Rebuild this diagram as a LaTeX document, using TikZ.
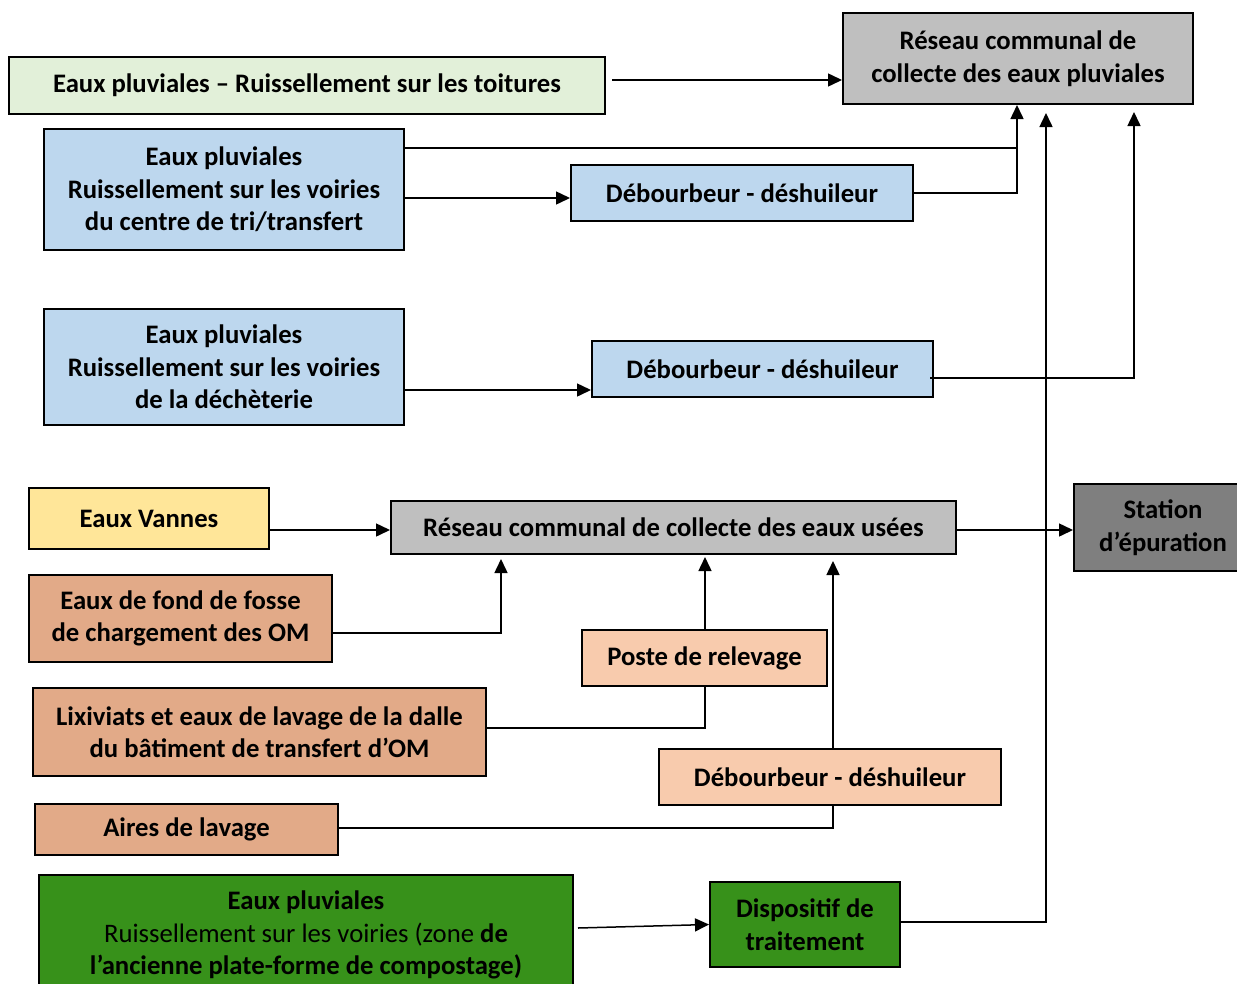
\documentclass[tikz,border=0pt]{standalone}
\usepackage{fontspec}
\setmainfont{Carlito}
\usetikzlibrary{arrows.meta,calc}
\definecolor{lgreen}{HTML}{E2F0D9}
\definecolor{cgrey}{HTML}{BFBFBF}
\definecolor{cblue}{HTML}{BDD7EE}
\definecolor{cyellow}{HTML}{FFE699}
\definecolor{cstation}{HTML}{7F7F7F}
\definecolor{ctan}{HTML}{E2AA88}
\definecolor{cpeach}{HTML}{F8CBAD}
\definecolor{dgreen}{HTML}{37911A}
\begin{document}
\begin{tikzpicture}[x=1pt,y=-1pt,
  box/.style={draw=black,line width=2pt,inner sep=0pt,align=center,
    font=\fontsize{26.7}{32.5}\selectfont\bfseries},
  conn/.style={line width=1.5pt},
  arr/.style={conn,-{Triangle[length=14pt,width=13pt]}}]
\useasboundingbox (0,0) rectangle (1237,983);
\clip (0,0) rectangle (1237,983);

% boxes
\node[box,fill=lgreen,minimum width=596pt,minimum height=57pt] (toit) at (307,85.5)
  {Eaux pluviales -- Ruissellement sur les toitures};
\node[box,fill=cgrey,minimum width=350pt,minimum height=91pt] (rpluv) at (1018,58.5)
  {Réseau communal de\\collecte des eaux pluviales};
\node[box,fill=cblue,minimum width=360pt,minimum height=121pt] (voir1) at (224,189.5)
  {Eaux pluviales\\Ruissellement sur les voiries\\du centre de tri/transfert};
\node[box,fill=cblue,minimum width=342pt,minimum height=56pt] (deb1) at (742,193)
  {Débourbeur - déshuileur};
\node[box,fill=cblue,minimum width=360pt,minimum height=116pt] (voir2) at (224,367)
  {Eaux pluviales\\Ruissellement sur les voiries\\de la déchèterie};
\node[box,fill=cblue,minimum width=341pt,minimum height=56pt] (deb2) at (762.5,369)
  {Débourbeur - déshuileur};
\node[box,fill=cyellow,minimum width=240pt,minimum height=61pt] (vannes) at (149,518.5)
  {Eaux Vannes};
\node[box,fill=cgrey,minimum width=565pt,minimum height=53pt] (rusees) at (673.5,527.5)
  {Réseau communal de collecte des eaux usées};
\node[box,fill=cstation,minimum width=178pt,minimum height=87pt] (station) at (1163,527.5)
  {Station\\d’épuration};
\node[box,fill=ctan,minimum width=303pt,minimum height=87pt] (fosse) at (180.5,618.5)
  {Eaux de fond de fosse\\de chargement des OM};
\node[box,fill=cpeach,minimum width=245pt,minimum height=56pt] (poste) at (704.5,658)
  {Poste de relevage};
\node[box,fill=ctan,minimum width=453pt,minimum height=88pt] (lix) at (259.5,732)
  {Lixiviats et eaux de lavage de la dalle\\du bâtiment de transfert d’OM};
\node[box,fill=cpeach,minimum width=342pt,minimum height=56pt] (deb3) at (830,777)
  {Débourbeur - déshuileur};
\node[box,fill=ctan,minimum width=303pt,minimum height=51pt] (aires) at (186.5,829)
  {Aires de lavage};
\node[box,fill=dgreen,minimum width=534pt,minimum height=120pt] (compost) at (306,935)
  {Eaux pluviales\\{\mdseries Ruissellement sur les voiries (zone} de\\l’ancienne plate-forme de compostage)};
\node[box,fill=dgreen,minimum width=190pt,minimum height=85pt] (disp) at (805,924.5)
  {Dispositif de\\traitement};

% free ends / bends
\coordinate (yA) at (0,80);
\coordinate (yB) at (0,148);
\coordinate (xP) at (1017,0);
\coordinate (tipQ) at (1046,113);
\coordinate (tipR) at (1134,112);
\coordinate (yC) at (0,378);
\coordinate (yD) at (0,633);
\coordinate (tipF) at (501,559);
\coordinate (yE) at (0,728);
\coordinate (tipP) at (705,557);
\coordinate (tipD) at (833,561);
\coordinate (yG) at (0,828);
\coordinate (yH) at (0,922);

% connectors
\draw[arr] ($(toit.east |- yA)+(6,0)$) -- (rpluv.west |- yA);
\draw[arr] (voir1.east |- yB) -| (rpluv.south -| xP);
\draw[conn] (deb1.east) -| (xP |- yB);
\draw[arr] (voir1.east |- 0,198) -- (deb1.west |- 0,198);
\draw[arr] (voir2.east |- 0,390) -- (deb2.west |- 0,390);
\draw[arr] ($(deb2.east |- yC)+(-4,0)$) -| (tipR);
\draw[arr] (disp.east |- yH) -| (tipQ);
\draw[arr] (vannes.east |- 0,530) -- (rusees.west |- 0,530);
\draw[arr] (rusees.east |- 0,530) -- (station.west |- 0,530);
\draw[arr] (fosse.east |- yD) -| (tipF);
\draw[conn] (lix.east |- yE) -| (poste.south -| tipP);
\draw[arr] (poste.north -| tipP) -- (tipP);
\draw[conn] (aires.east |- yG) -| (deb3.south -| tipD);
\draw[arr] (deb3.north -| tipD) -- (tipD);
\draw[arr] ($(compost.east)+(4,-7)$) -- (disp.west);
\end{tikzpicture}
\end{document}
